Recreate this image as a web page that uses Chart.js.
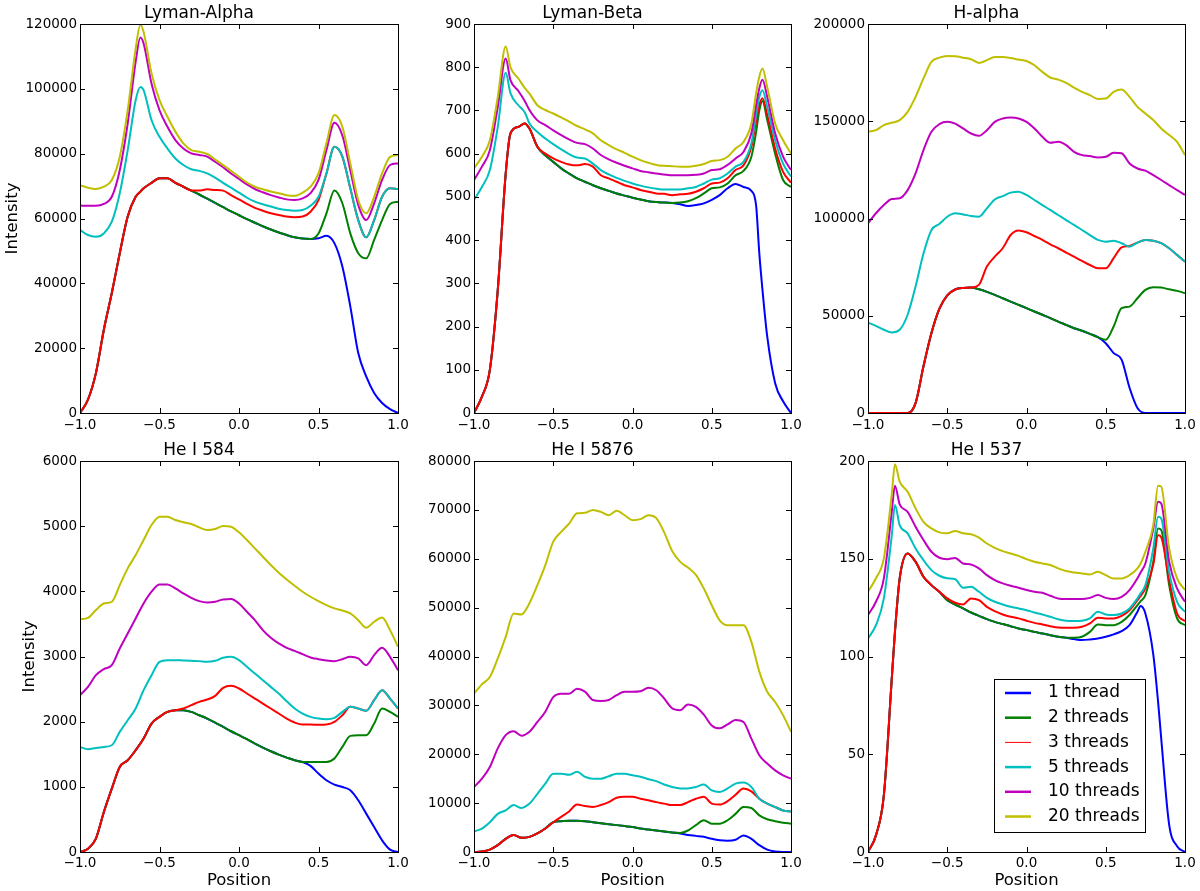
<!DOCTYPE html>
<html>
<head>
<meta charset="utf-8">
<title>Line profiles by thread count</title>
<script src="https://cdn.jsdelivr.net/npm/chart.js@4.4.1/dist/chart.umd.min.js"></script>
<style>
  html, body { margin: 0; padding: 0; background: #fff; }
  body { position: relative; width: 1200px; height: 891px; overflow: hidden; }
  canvas { position: absolute; }
</style>
</head>
<body>
<canvas id="c1"></canvas>
<canvas id="c2"></canvas>
<canvas id="c3"></canvas>
<canvas id="c4"></canvas>
<canvas id="c5"></canvas>
<canvas id="c6"></canvas>
<script>
const threadLabels = ['1 thread', '2 threads', '3 threads', '5 threads', '10 threads', '20 threads'];
const threadColors = ['#0000ff', '#008000', '#ff0000', '#00bfbf', '#bf00bf', '#bfbf00'];

const xTickValues = [-1, -0.5, 0, 0.5, 1];
const xTickLabels = ['\u22121.0', '\u22120.5', '0.0', '0.5', '1.0'];

// Lyman-Alpha
const lyaPos = [-1,-0.95,-0.9,-0.85,-0.8,-0.75,-0.7,-0.65,-0.62,-0.6,-0.55,-0.5,-0.45,-0.4,-0.35,-0.3,-0.25,-0.2,-0.15,-0.1,-0.05,0,0.05,0.1,0.15,0.2,0.25,0.3,0.35,0.4,0.45,0.5,0.55,0.6,0.65,0.7,0.75,0.8,0.85,0.9,0.95,1];
const lya1 = [0,4100,12300,25700,37000,49300,60600,66700,68300,69300,71000,72400,72400,71000,69800,68600,67400,66100,64800,63500,62200,61000,59800,58700,57600,56600,55700,54900,54200,53800,53700,53900,54700,52400,45200,32900,18500,11300,6200,3100,1200,0];
const lya2 = [0,4100,12300,25700,37000,49300,60600,66700,68300,69300,71000,72400,72400,71000,69800,68600,67400,66100,64800,63500,62200,61000,59800,58700,57600,56600,55700,54900,54200,53800,53700,55400,61600,68600,64700,55400,49300,47700,53400,59500,64500,65200];
const lya3 = [0,4100,12300,25700,37000,49300,60600,66700,68300,69300,71000,72400,72400,71000,69800,68600,68600,69000,68800,68600,67200,65900,64500,63300,62400,61600,61100,60600,60400,60600,62100,65700,73900,82100,79100,69300,59500,54200,59500,66700,69300,69100];
const lya5 = [56500,54900,54400,55400,59000,67800,81100,96500,100600,99600,90300,85200,81600,78500,76500,75200,74700,73900,72600,71000,69500,68000,66400,65200,64400,63700,63000,62600,62400,62600,63900,66700,73900,82100,79100,69300,59500,54200,59500,66700,69300,69100];
const lya10 = [64000,63900,63900,64500,66700,74900,89300,108300,115800,114000,101600,93400,88300,84200,81600,80100,79600,79100,77500,75800,73900,72200,70500,69100,68100,67200,66500,65900,65700,66200,67800,71900,81100,89500,85600,74900,64200,59500,64700,71900,76500,77000];
const lya20 = [70300,69500,69100,69800,71900,79000,93400,112400,119800,117500,104700,96500,91400,86800,83200,81100,80600,79900,78200,76500,74700,72900,71100,69800,69000,68300,67800,67200,67000,68000,69800,73900,83200,91900,88300,77000,65700,61600,66700,73900,79000,79600];
const lyaTicks = [0, 20000, 40000, 60000, 80000, 100000, 120000];

// Lyman-Beta
const lybPos = [-1,-0.95,-0.9,-0.85,-0.8,-0.77,-0.72,-0.68,-0.65,-0.6,-0.55,-0.5,-0.45,-0.4,-0.35,-0.3,-0.25,-0.2,-0.15,-0.1,-0.05,0,0.05,0.1,0.15,0.2,0.25,0.3,0.35,0.4,0.45,0.5,0.55,0.6,0.65,0.7,0.75,0.78,0.8,0.82,0.85,0.9,0.95,1];
const lyb1 = [0,38,100,285,554,647,662,670,658,616,596,581,566,554,543,535,527,520,514,508,503,498,494,490,488,487,486,483,479,481,485,493,504,520,530,523,514,480,370,285,177,69,27,0];
const lyb2 = [0,38,100,285,554,647,662,670,658,616,596,581,566,554,543,535,527,520,514,508,503,498,494,490,488,487,486,487,490,497,508,520,522,531,550,560,593,650,700,722,678,600,539,523];
const lyb3 = [0,38,100,285,554,647,662,670,658,616,600,589,581,575,573,576,570,550,543,535,527,522,516,512,508,507,504,506,507,512,520,531,533,543,562,573,616,675,712,728,690,612,558,533];
const lyb5 = [493,523,562,662,787,740,712,696,670,650,635,622,610,599,591,589,577,562,552,544,537,531,526,522,519,517,517,517,520,523,531,540,543,554,570,581,624,690,731,747,708,631,577,547];
const lyb10 = [539,570,608,708,820,770,745,722,701,677,666,654,643,633,625,622,612,597,587,579,572,566,560,557,554,552,550,550,550,551,554,562,564,574,589,604,647,712,751,771,731,647,593,562];
const lyb20 = [566,593,631,731,848,800,774,752,739,712,701,693,684,674,664,656,647,631,620,610,602,593,585,579,574,572,571,570,570,572,576,583,585,593,612,627,670,740,778,797,754,670,631,600];
const lybTicks = [0, 100, 200, 300, 400, 500, 600, 700, 800, 900];

// H-alpha
const haPos = [-1,-0.95,-0.9,-0.85,-0.8,-0.75,-0.7,-0.65,-0.6,-0.55,-0.5,-0.45,-0.4,-0.35,-0.3,-0.25,-0.2,-0.15,-0.1,-0.05,0,0.05,0.1,0.15,0.2,0.25,0.3,0.35,0.4,0.45,0.5,0.55,0.6,0.65,0.7,0.75,0.8,0.85,0.9,0.95,1];
const ha1 = [0,0,0,0,0,0,5100,24000,41000,53500,60500,63500,64300,64500,63600,62300,60700,59000,57300,55600,53900,52200,50500,48800,47000,45300,43600,42300,40700,39000,35900,30800,27400,13000,2600,0,0,0,0,0,0];
const ha2 = [0,0,0,0,0,0,5100,24000,41000,53500,60500,63500,64300,64500,63600,62300,60700,59000,57300,55600,53900,52200,50500,48800,47000,45300,43600,42300,40700,39000,37600,44500,53900,54700,59000,63300,64700,64500,63600,62800,61600];
const ha3 = [0,0,0,0,0,0,5100,24000,41000,53500,60500,63500,64300,64500,65900,75300,80400,84700,91500,93800,92900,91000,89000,86700,84700,82500,80400,78200,76100,74400,74400,79600,85200,85900,87600,89000,88600,87300,84700,81300,77800];
const ha5 = [46500,44800,42800,41400,42800,50500,65000,82000,94000,97200,100900,102700,102100,101300,100900,105200,109800,111500,113300,113800,112100,109500,106900,104400,101800,99200,96700,94100,91500,89000,88100,88600,87300,85500,87600,89000,88600,87300,84700,81300,77800];
const ha10 = [97500,102700,106900,110000,110400,114600,123200,135200,144600,148500,149700,148800,146300,143700,142500,145400,149700,151400,151900,151400,149700,146300,142000,138900,139400,137700,134300,132600,132100,131400,131700,133800,133500,128300,125700,124600,122300,119800,117200,114600,112100];
const ha20 = [144600,145400,148000,149200,150600,154800,162500,172000,180500,182700,183600,183400,182700,181900,180000,181400,183000,183000,182500,181700,181000,178800,175400,172500,171400,169700,167300,165100,163400,161500,161700,165100,166300,162500,157400,154000,150600,146300,142900,139400,132600];
const haTicks = [0, 50000, 100000, 150000, 200000];

// He I 584
const he584Pos = [-1,-0.95,-0.9,-0.85,-0.8,-0.75,-0.7,-0.65,-0.6,-0.55,-0.5,-0.45,-0.4,-0.35,-0.3,-0.25,-0.2,-0.15,-0.1,-0.05,0,0.05,0.1,0.15,0.2,0.25,0.3,0.35,0.4,0.45,0.5,0.55,0.6,0.65,0.7,0.75,0.8,0.85,0.9,0.95,1];
const he584_1 = [0,51,205,614,973,1306,1408,1562,1741,1971,2074,2150,2176,2176,2150,2099,2048,1987,1920,1853,1792,1731,1664,1603,1546,1495,1449,1408,1382,1321,1203,1101,1034,998,947,794,589,384,179,36,0];
const he584_2 = [0,51,205,614,973,1306,1408,1562,1741,1971,2074,2150,2176,2176,2150,2099,2048,1987,1920,1853,1792,1731,1664,1603,1546,1495,1449,1408,1382,1382,1382,1382,1434,1613,1782,1792,1792,1971,2202,2150,2074];
const he584_3 = [0,51,205,614,973,1306,1408,1562,1741,1971,2074,2150,2176,2202,2253,2304,2340,2396,2519,2550,2509,2432,2355,2278,2202,2125,2048,1987,1956,1956,1951,1956,1997,2099,2227,2202,2166,2330,2483,2355,2202];
const he584_5 = [1613,1577,1597,1613,1638,1843,2022,2202,2483,2714,2918,2944,2944,2939,2934,2929,2918,2934,2980,2995,2944,2842,2739,2637,2534,2432,2314,2202,2125,2074,2048,2038,2058,2150,2227,2202,2166,2330,2483,2355,2202];
const he584_10 = [2406,2534,2714,2806,2867,3123,3354,3584,3814,3994,4106,4106,4045,3968,3901,3850,3830,3840,3876,3881,3814,3686,3558,3405,3287,3200,3133,3087,3036,2985,2959,2939,2929,2959,2995,2970,2867,3021,3133,2995,2790];
const he584_20 = [3574,3594,3712,3814,3840,4096,4352,4557,4787,5018,5146,5146,5094,5059,5033,4982,4941,4956,5002,4992,4905,4787,4659,4531,4403,4285,4183,4086,3994,3917,3850,3789,3738,3707,3661,3558,3441,3533,3599,3405,3149];
const he584Ticks = [0, 1000, 2000, 3000, 4000, 5000, 6000];

// He I 5876
const he5876Pos = [-1,-0.95,-0.9,-0.85,-0.8,-0.75,-0.7,-0.65,-0.6,-0.55,-0.5,-0.45,-0.4,-0.35,-0.3,-0.25,-0.2,-0.15,-0.1,-0.05,0,0.05,0.1,0.15,0.2,0.25,0.3,0.35,0.4,0.45,0.5,0.55,0.6,0.65,0.7,0.75,0.8,0.85,0.9,0.95,1];
const he5876_1 = [0,100,500,1400,2700,3500,2900,3100,3800,4800,6100,6300,6400,6400,6300,6100,5900,5700,5500,5300,5100,4800,4600,4400,4200,4000,3800,3500,3300,3100,2700,2400,2300,2500,3400,2700,1400,500,100,0,0];
const he5876_2 = [0,100,500,1400,2700,3500,2900,3100,3800,4800,6100,6300,6400,6400,6300,6100,5900,5700,5500,5300,5100,4800,4600,4400,4200,4000,3900,4400,5500,6500,5800,5800,6500,7800,9200,9000,7500,6700,6300,6000,5800];
const he5876_3 = [0,100,500,1400,2700,3500,2900,3100,3800,4800,6100,7200,8300,9700,9400,9200,9600,10200,11100,11300,11300,10900,10600,10200,9900,9600,9600,10200,10900,11300,9900,9700,10400,11700,13000,12400,10900,9900,9200,8500,8300];
const he5876_5 = [4200,4800,6100,7800,8500,9600,9000,9900,11900,14000,16000,16000,15800,16400,15400,15000,15000,15500,16000,16000,15700,15400,14900,14500,13800,13300,13000,13000,13300,13800,12600,12300,13000,14000,14200,13300,10900,9900,9200,8500,8300];
const he5876_10 = [13300,15000,17400,21200,23900,24700,23800,24600,26600,28700,31700,32400,32400,33400,32800,31100,30900,31100,32100,32800,32800,32900,33600,33100,31400,29400,29000,30200,29700,28100,25900,25300,26100,27000,26600,23200,19800,18100,16700,15700,15000];
const he5876_20 = [32400,34300,35800,39600,44000,48800,48600,50900,54600,58700,63500,65500,67200,69300,69400,70000,69600,68900,69800,68900,67900,68100,68900,68300,65400,61600,59400,58200,56700,53900,50500,47400,46400,46400,46400,43000,36900,32800,30700,28000,24600];
const he5876Ticks = [0, 10000, 20000, 30000, 40000, 50000, 60000, 70000, 80000];

// He I 537
const he537Pos = [-1,-0.95,-0.9,-0.85,-0.83,-0.8,-0.75,-0.7,-0.65,-0.6,-0.55,-0.5,-0.45,-0.4,-0.35,-0.3,-0.25,-0.2,-0.15,-0.1,-0.05,0,0.05,0.1,0.15,0.2,0.25,0.3,0.35,0.4,0.45,0.5,0.55,0.6,0.65,0.7,0.72,0.75,0.8,0.83,0.85,0.9,0.95,1];
const he537_1 = [0,8.5,29,88.7,112.6,140,152.7,148.5,140.8,136.5,133.1,128.8,126.6,124.6,122.5,120.8,119.1,117.7,116.6,115.5,114.3,113.5,112.6,111.8,110.9,110.1,109.6,108.9,108.4,108.7,109.2,110.1,111.3,113,116,122.9,125.8,122,101,77,58,14,3,0];
const he537_2 = [0,8.5,29,88.7,112.6,140,152.7,148.5,140.8,136.5,133.1,128.8,126.6,124.6,122.5,120.8,119.1,117.7,116.6,115.5,114.3,113.5,112.6,111.8,110.9,110.1,109.6,109.6,110.1,112.6,116.4,116,116,117.7,121.2,126.3,128.3,131.4,148.5,165.5,164.7,136.5,119.5,116];
const he537_3 = [0,8.5,29,88.7,112.6,140,152.7,148.5,140.8,136.5,133.1,129.7,127.5,126.6,129.7,128.8,125.4,123.2,121.5,120.3,119.5,118.3,117.2,116.4,115.5,114.8,114.7,114.7,115.2,116.9,119.8,119.5,119.5,120.8,123.7,128.8,131,134.8,147,162,161,139,122,118];
const he537_5 = [109.2,116,129.7,162,177.5,167.2,163,155.3,149.3,144.2,141.3,140,139.5,135.2,135.7,133.1,130,128,126.6,125.4,124.6,123.7,122.5,121.5,120.3,119.1,118.3,118.1,118.3,119.5,122.9,121.5,121.2,122,124.6,129.7,132.3,136.5,155.3,171.5,170.6,143.3,128,122.8];
const he537_10 = [121.2,128,140,174,187.4,177.8,174,166.4,159.6,153.6,150.5,149.8,150.4,147.6,147.1,145.1,141.6,139.1,137.4,136.2,135.2,134,133.1,132.6,131.1,129.7,129.4,129.4,129.4,130,131.4,130,129.4,130.5,134,140,143,147.6,165.5,179.2,178.3,148.5,134.8,128];
const he537_20 = [133.1,140,150.2,183,198.3,189.4,184.3,175.8,168.9,165.5,163.5,163,164.2,163,162.5,160.8,157.8,155.6,153.9,152.7,151.5,149.8,148.5,147.6,146.8,145.1,143.7,143,142.5,142,143.3,141.6,139.9,139.9,141.6,145.1,147.6,153.6,167.2,187.4,186.9,155.3,140,134];
const he537Ticks = [0, 50, 100, 150, 200];

Chart.defaults.font.family = '"DejaVu Sans", sans-serif';
Chart.defaults.color = '#000';

// inward ticks on all four sides plus the black frame, like the original axes
const framePlugin = {
    id: 'frame',
    afterDatasetsDraw(chart) {
        const { ctx, chartArea: a, scales: { x, y } } = chart;
        const len = 5;
        ctx.save();
        ctx.strokeStyle = '#000';
        ctx.lineWidth = 1;
        ctx.beginPath();
        x.ticks.forEach(t => {
            const px = Math.round(x.getPixelForValue(t.value)) + 0.5;
            ctx.moveTo(px, a.bottom); ctx.lineTo(px, a.bottom - len);
            ctx.moveTo(px, a.top); ctx.lineTo(px, a.top + len);
        });
        y.ticks.forEach(t => {
            const py = Math.round(y.getPixelForValue(t.value)) + 0.5;
            ctx.moveTo(a.left, py); ctx.lineTo(a.left + len, py);
            ctx.moveTo(a.right, py); ctx.lineTo(a.right - len, py);
        });
        ctx.stroke();
        ctx.strokeRect(Math.round(a.left) + 0.5, Math.round(a.top) + 0.5,
            Math.round(a.right - a.left), Math.round(a.bottom - a.top));
        ctx.restore();
    }
};

// boxed legend in the lower right of the last panel
const threadLegend = {
    id: 'threadLegend',
    afterDraw(chart) {
        const { ctx, chartArea: a } = chart;
        const w = 151, h = 153;
        const bx = Math.round(a.right - 40 - w), by = Math.round(a.bottom - 20 - h);
        ctx.save();
        ctx.fillStyle = '#fff';
        ctx.fillRect(bx, by, w, h);
        ctx.strokeStyle = '#000';
        ctx.lineWidth = 1;
        ctx.strokeRect(bx + 0.5, by + 0.5, w, h);
        ctx.font = '17px "DejaVu Sans"';
        ctx.textBaseline = 'middle';
        chart.data.datasets.forEach((ds, i) => {
            const cy = by + 14 + i * 24.7;
            ctx.strokeStyle = ds.borderColor;
            ctx.lineWidth = ds.legendWidth;
            ctx.beginPath();
            ctx.moveTo(bx + 11, cy);
            ctx.lineTo(bx + 37, cy);
            ctx.stroke();
            ctx.fillStyle = '#000';
            ctx.fillText(ds.label, bx + 54, cy);
        });
        ctx.restore();
    }
};

const panels = [
    { id: 'c1', title: 'Lyman-Alpha', pos: lyaPos, series: [lya1, lya2, lya3, lya5, lya10, lya20], ticks: lyaTicks,
      area: { l: 80, r: 398 }, top: 0, height: 445, bottom: 413, titlePad: { top: 3, bottom: 0.6 }, yTitlePad: 3, xTitle: false, tickPad: 4 },
    { id: 'c2', title: 'Lyman-Beta', pos: lybPos, series: [lyb1, lyb2, lyb3, lyb5, lyb10, lyb20], ticks: lybTicks,
      area: { l: 474, r: 791 }, top: 0, height: 445, bottom: 413, titlePad: { top: 3, bottom: 0.6 }, yTitlePad: null, xTitle: false, tickPad: 4 },
    { id: 'c3', title: 'H-alpha', pos: haPos, series: [ha1, ha2, ha3, ha5, ha10, ha20], ticks: haTicks,
      area: { l: 868, r: 1185 }, top: 0, height: 445, bottom: 413, titlePad: { top: 3, bottom: 0.6 }, yTitlePad: null, xTitle: false, tickPad: 4 },
    { id: 'c4', title: 'He I 584', pos: he584Pos, series: [he584_1, he584_2, he584_3, he584_5, he584_10, he584_20], ticks: he584Ticks,
      area: { l: 80, r: 398 }, top: 430, height: 461, bottom: 852, titlePad: { top: 10.6, bottom: 0 }, yTitlePad: 20, xTitle: true, tickPad: 3 },
    { id: 'c5', title: 'He I 5876', pos: he5876Pos, series: [he5876_1, he5876_2, he5876_3, he5876_5, he5876_10, he5876_20], ticks: he5876Ticks,
      area: { l: 474, r: 791 }, top: 430, height: 461, bottom: 852, titlePad: { top: 10.6, bottom: 0 }, yTitlePad: null, xTitle: true, tickPad: 3 },
    { id: 'c6', title: 'He I 537', pos: he537Pos, series: [he537_1, he537_2, he537_3, he537_5, he537_10, he537_20], ticks: he537Ticks,
      area: { l: 868, r: 1185 }, top: 430, height: 461, bottom: 852, titlePad: { top: 10.6, bottom: 0 }, yTitlePad: null, xTitle: true, tickPad: 3, legend: true }
];

panels.forEach(p => {
    const canvas = document.getElementById(p.id);
    const yAxisWidth = 80;
    const rightPad = 20;
    const width = p.area.r - p.area.l + yAxisWidth + rightPad;
    canvas.width = width;
    canvas.height = p.height;
    canvas.style.left = (p.area.l - yAxisWidth) + 'px';
    canvas.style.top = p.top + 'px';
    canvas.style.width = width + 'px';
    canvas.style.height = p.height + 'px';

    const datasets = threadLabels.map((label, i) => ({
        label: label,
        data: p.pos.map((x, k) => ({ x: x, y: p.series[i][k] })),
        borderColor: threadColors[i],
        backgroundColor: threadColors[i],
        borderWidth: 2,
        legendWidth: i === 2 ? 1 : 2.5,
        pointRadius: 0,
        fill: false,
        cubicInterpolationMode: 'monotone',
        order: 5 - i
    }));

    new Chart(canvas, {
        type: 'line',
        data: { datasets: datasets },
        options: {
            responsive: false,
            animation: false,
            events: [],
            layout: { padding: { left: 0, right: rightPad, top: 0, bottom: 0 } },
            plugins: {
                legend: { display: false },
                tooltip: { enabled: false },
                title: {
                    display: true,
                    text: p.title,
                    color: '#000',
                    font: { size: 17, weight: 'normal' },
                    padding: p.titlePad
                }
            },
            scales: {
                x: {
                    type: 'linear',
                    min: -1,
                    max: 1,
                    afterBuildTicks: s => { s.ticks = xTickValues.map(v => ({ value: v })); },
                    afterFit: s => { s.height = p.top + p.height - p.bottom; },
                    grid: { display: false, drawTicks: false },
                    border: { display: false },
                    ticks: {
                        autoSkip: false,
                        maxRotation: 0,
                        padding: p.tickPad,
                        font: { size: 13.5 },
                        color: '#000',
                        callback: (v, i) => xTickLabels[i]
                    },
                    title: {
                        display: p.xTitle,
                        text: 'Position',
                        color: '#000',
                        font: { size: 16.5 },
                        padding: { top: 0, bottom: 0 }
                    }
                },
                y: {
                    type: 'linear',
                    min: 0,
                    max: p.ticks[p.ticks.length - 1],
                    afterBuildTicks: s => { s.ticks = p.ticks.map(v => ({ value: v })); },
                    afterFit: s => { s.width = yAxisWidth; },
                    grid: { display: false, drawTicks: false },
                    border: { display: false },
                    ticks: {
                        padding: 3,
                        font: { size: 13.5 },
                        color: '#000',
                        callback: v => String(v)
                    },
                    title: {
                        display: p.yTitlePad !== null,
                        text: 'Intensity',
                        color: '#000',
                        font: { size: 16.5 },
                        padding: { top: p.yTitlePad || 0, bottom: 0 }
                    }
                }
            }
        },
        plugins: p.legend ? [framePlugin, threadLegend] : [framePlugin]
    });
});
</script>
</body>
</html>
